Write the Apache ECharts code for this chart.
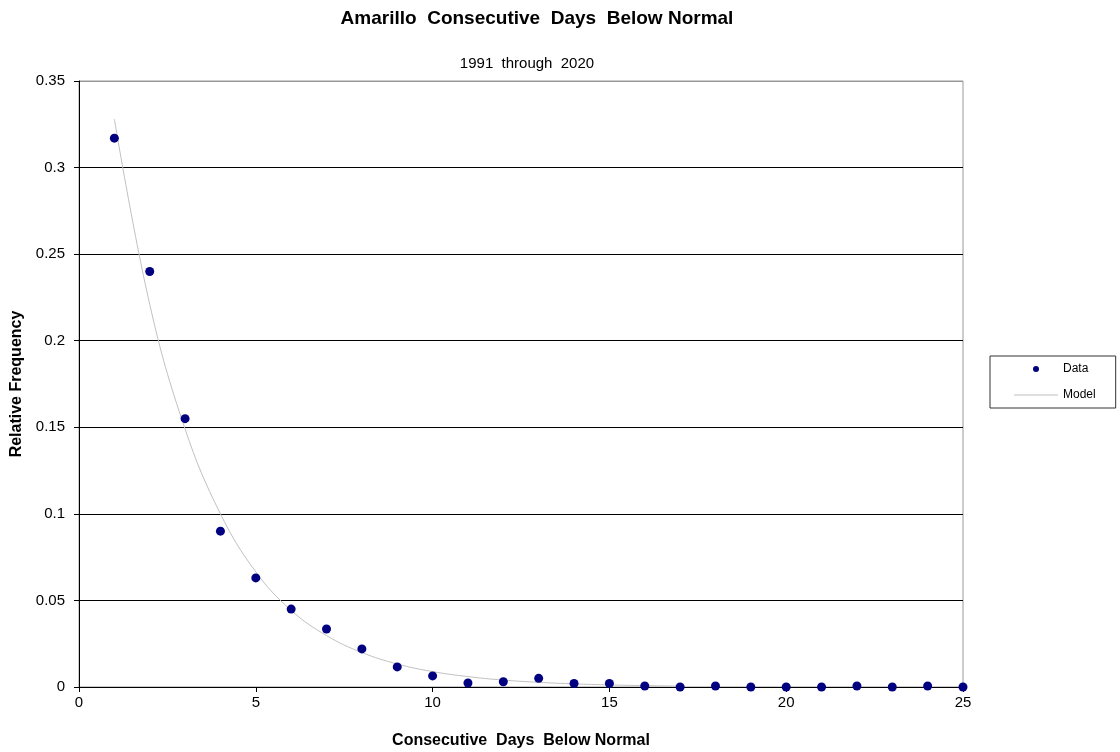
<!DOCTYPE html>
<html>
<head>
<meta charset="utf-8">
<script src="https://cdn.jsdelivr.net/npm/echarts@6/dist/echarts.min.js"></script>
<style>html,body{margin:0;padding:0;background:#fff}#c{width:1120px;height:752px}</style>
</head>
<body>
<div id="c"></div>
<script>
var days = [1,2,3,4,5,6,7,8,9,10,11,12,13,14,15,16,17,18,19,20,21,22,23,24,25];
var dataFreq = [0.317,0.240,0.155,0.090,0.063,0.045,0.0335,0.022,0.0116,0.0064,0.0023,0.003,0.005,0.002,0.002,0.0006,0,0.0006,0,0,0,0.0006,0,0.0006,0];
var modelDays = [1,2,3,4,5,6,7,8,9,10,11,12,13,14,15,16,17];
var modelFreq = [0.328,0.221,0.149,0.1,0.0665,0.0443,0.0297,0.0199,0.0133,0.0089,0.0060,0.0040,0.0027,0.0018,0.0012,0.0008,0.0005];
var yTicks = ['0','0.05','0.1','0.15','0.2','0.25','0.3','0.35'];

var font = 'Liberation Sans, Arial, sans-serif';
var chart = echarts.init(document.getElementById('c'), null, {renderer:'canvas'});
chart.setOption({
  animation:false,
  backgroundColor:'#fff',
  title:[
    {text:'Amarillo  Consecutive  Days  Below Normal', left:532, top:4, textAlign:'center',
     textStyle:{fontFamily:font, fontSize:19, fontWeight:'bold', color:'#000'}},
    {text:'1991  through  2020', left:522, top:51, textAlign:'center',
     textStyle:{fontFamily:font, fontSize:15, fontWeight:'normal', color:'#000'}}
  ],
  legend:{
    orient:'vertical', left:990, top:356,
    data:[{name:'Data', icon:'circle'},{name:'Model', icon:'path://M0,0h44v1h-44z'}],
    itemWidth:44, itemHeight:6, itemGap:14,
    padding:[7,20,7,24],
    borderColor:'#333', borderWidth:1,
    textStyle:{fontFamily:font, fontSize:12, color:'#000'}
  },
  grid:{left:79, right:157, top:81, bottom:65, show:true, borderColor:'#999', borderWidth:1,
        outerBoundsMode:'none', containLabel:false},
  xAxis:{
    type:'value', min:0, max:25, interval:5,
    name:'Consecutive  Days  Below Normal', nameLocation:'middle', nameGap:46,
    nameTextStyle:{fontFamily:font, fontSize:16, fontWeight:'bold', color:'#000'},
    axisLine:{show:true, onZero:false, lineStyle:{color:'#000', width:1}},
    axisTick:{show:true, inside:false, length:5, lineStyle:{color:'#000'}},
    axisLabel:{fontFamily:font, fontSize:15, color:'#000', margin:8},
    splitLine:{show:false}
  },
  yAxis:{
    type:'value', min:0, max:0.35, interval:0.05,
    name:'Relative Frequency', nameLocation:'middle', nameGap:53,
    nameTextStyle:{fontFamily:font, fontSize:16, fontWeight:'bold', color:'#000'},
    axisLine:{show:true, lineStyle:{color:'#000', width:1}},
    axisTick:{show:true, inside:false, length:5, lineStyle:{color:'#000'}},
    axisLabel:{fontFamily:font, fontSize:15, color:'#000', margin:14,
      formatter:function(v, i){ return yTicks[i]; }},
    splitLine:{show:true, lineStyle:{color:['#000','#000','#000','#000','#000','#000','#000','#999'], width:1}}
  },
  series:[
    {name:'Model', type:'line', smooth:0.4, symbol:'none', z:2,
     data: modelDays.map(function(d,i){return [d, modelFreq[i]];}),
     lineStyle:{color:'#c0c0c0', width:1}, itemStyle:{color:'#c0c0c0'}},
    {name:'Data', type:'scatter', symbol:'circle', symbolSize:9, z:3,
     data: days.map(function(d,i){return [d, dataFreq[i]];}),
     itemStyle:{color:'#000080', opacity:1}}
  ]
});
</script>
</body>
</html>
